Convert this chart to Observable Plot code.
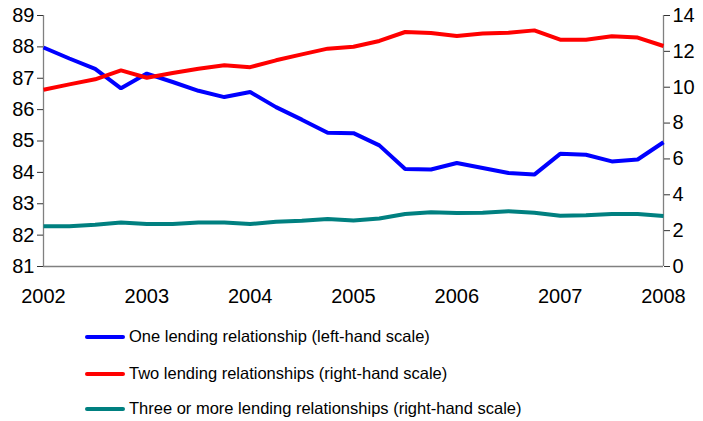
<!DOCTYPE html>
<html>
<head>
<meta charset="utf-8">
<script src="https://cdn.jsdelivr.net/npm/d3@7"></script>
<script src="https://cdn.jsdelivr.net/npm/@observablehq/plot@0.6"></script>
<style>
  html, body { margin: 0; padding: 0; background: #fff; }
  body { width: 703px; height: 421px; overflow: hidden; font-family: "Liberation Sans", Arial, sans-serif; }
  #legend { position: relative; height: 111px; }
  .item { position: absolute; left: 85px; display: flex; align-items: center; font-size: 16.5px; color: #000; }
  .sw { width: 40px; height: 4px; margin-right: 4px; border-radius: 2px; }
</style>
</head>
<body>
<div id="chart"></div>
<div id="legend"></div>
<script>
// Quarterly observations, 2002 Q1 .. 2008 Q1
const quarters = d3.range(25);
const yearLabels = ["2002", "2003", "2004", "2005", "2006", "2007", "2008"];
const seriesNames = [
  "One lending relationship (left-hand scale)",
  "Two lending relationships (right-hand scale)",
  "Three or more lending relationships (right-hand scale)"
];
const seriesColors = ["#0000ff", "#ff0000", "#008080"];
// left-hand scale
const oneRel = [87.98, 87.63, 87.3, 86.68, 87.15, 86.88, 86.6, 86.4, 86.56, 86.08, 85.68, 85.26, 85.25,
  84.86, 84.11, 84.09, 84.3, 84.14, 83.98, 83.93, 84.59, 84.56, 84.35, 84.41, 84.96];
// right-hand scale
const twoRel = [9.86, 10.16, 10.44, 10.94, 10.53, 10.79, 11.03, 11.22, 11.12, 11.5, 11.83, 12.15, 12.26,
  12.58, 13.08, 13.02, 12.86, 12.99, 13.04, 13.17, 12.65, 12.65, 12.84, 12.77, 12.3];
const threeRel = [2.24, 2.24, 2.33, 2.46, 2.37, 2.37, 2.46, 2.46, 2.37, 2.5, 2.55, 2.65, 2.57,
  2.68, 2.93, 3.02, 2.98, 3.0, 3.08, 3.0, 2.83, 2.86, 2.93, 2.93, 2.82];

const leftDomain = [81, 89];
const rightDomain = [0, 14];
const leftTicks = d3.range(81, 90, 1);
const rightTicks = d3.range(0, 15, 2);
const toLeft = v => leftDomain[0] + (v - rightDomain[0]) * (leftDomain[1] - leftDomain[0]) / (rightDomain[1] - rightDomain[0]);
const toRight = v => rightDomain[0] + (v - leftDomain[0]) * (rightDomain[1] - rightDomain[0]) / (leftDomain[1] - leftDomain[0]);

const rows = [];
quarters.forEach((q, i) => {
  rows.push({q, v: oneRel[i], s: seriesNames[0]});
  rows.push({q, v: toLeft(twoRel[i]), s: seriesNames[1]});
  rows.push({q, v: toLeft(threeRel[i]), s: seriesNames[2]});
});

const chart = Plot.plot({
  width: 703,
  height: 310,
  marginLeft: 43,
  marginRight: 40,
  marginTop: 15,
  marginBottom: 44,
  style: {fontFamily: "Liberation Sans, Arial, sans-serif", fontSize: "20px", color: "#000", background: "#fff", overflow: "visible"},
  x: {domain: [0, 24]},
  y: {domain: leftDomain},
  color: {domain: seriesNames, range: seriesColors},
  marks: [
    Plot.ruleX([0, 24], {stroke: "#808080", strokeWidth: 1.3}),
    Plot.ruleY([81], {stroke: "#808080", strokeWidth: 1.6}),
    Plot.axisY(leftTicks, {anchor: "left", tickSize: 6, tickPadding: 3, tickFormat: d => d, stroke: "#333", label: null, fontSize: 20}),
    Plot.axisY(rightTicks.map(toLeft), {anchor: "right", tickSize: 6, tickPadding: 3, tickFormat: d => Math.round(toRight(d)), stroke: "#333", label: null, fontSize: 20}),
    Plot.axisX(d3.range(0, 25, 4), {tickSize: 0, tickPadding: 22, tickFormat: (d, i) => yearLabels[i], label: null, fontSize: 20}),
    Plot.line(rows, {x: "q", y: "v", z: "s", stroke: "s", strokeWidth: 4, strokeLinejoin: "miter", strokeLinecap: "butt"})
  ]
});
document.getElementById("chart").appendChild(chart);

const legend = document.getElementById("legend");
const tops = [17, 54, 89];
seriesNames.forEach((name, i) => {
  const div = document.createElement("div");
  div.className = "item";
  div.style.top = tops[i] + "px";
  div.innerHTML = `<span class="sw" style="background:${seriesColors[i]}"></span><span>${name}</span>`;
  legend.appendChild(div);
});
</script>
</body>
</html>
